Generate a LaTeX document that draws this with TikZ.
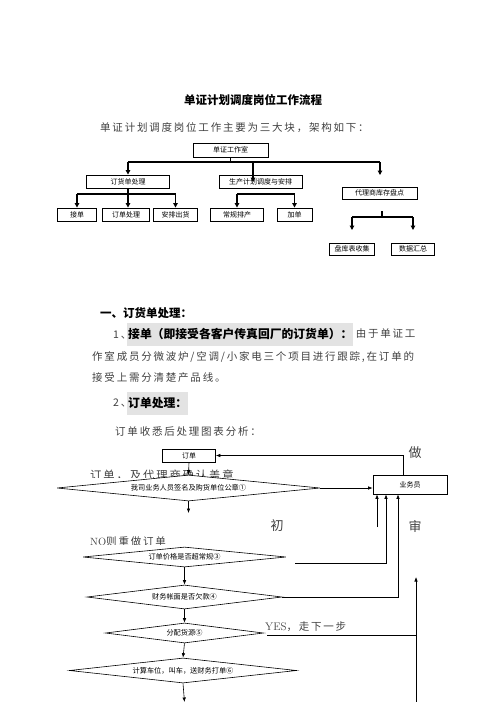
\documentclass[tikz,border=0pt]{standalone}
\usepackage{fontspec}
\newfontfamily\cjk{Noto Sans CJK SC}
\newfontfamily\cjksp[LetterSpace=17]{Noto Sans CJK SC}
\usetikzlibrary{arrows.meta,shapes.geometric}

\begin{document}
\begin{tikzpicture}[x=1pt,y=-1pt,>={Triangle[length=4.5pt,width=4.5pt]}]

% ---------- styles ----------
\tikzset{
  box/.style={draw, line width=0.9pt, inner sep=0pt, font=\cjk\fontsize{7}{8}\selectfont},
  tree/.style={line width=1.1pt},
  treearr/.style={->, line width=1.1pt},
  fbox/.style={draw, line width=0.6pt, inner sep=0pt, font=\cjk\fontsize{7}{8}\selectfont},
  dia/.style={diamond, draw, fill=white, line width=0.6pt, inner sep=0pt, font=\cjk\fontsize{7.2}{8}\selectfont},
  flow/.style={-{Latex[length=4.5pt,width=3.5pt]}, line width=0.6pt},
  body/.style={anchor=west, inner sep=0pt, text=black!75, font=\cjksp\fontsize{10.5}{12}\selectfont},
  bodyb/.style={body, text=black, font=\cjk\bfseries\fontsize{11.8}{13}\selectfont},
  big/.style={inner sep=0pt, text=black!75, font=\cjk\fontsize{13}{14}\selectfont}
}

\useasboundingbox (0,0) rectangle (496,702);

% ---------- heading ----------
\node[inner sep=0pt, font=\cjk\bfseries\fontsize{11.5}{13}\selectfont] (title) at (253,100) {单证计划调度岗位工作流程};
\node[body] (intro) at (100,128) {单证计划调度岗位工作主要为三大块，架构如下：};

% ---------- organisation tree ----------
\node[box, minimum width=75pt, minimum height=14pt] (room) at (230.5,150) {单证工作室};
\node[box, minimum width=83pt, minimum height=13pt] (ord) at (128,181.5) {订货单处理};
\node[box, minimum width=83pt, minimum height=13pt] (plan) at (260.5,181.5) {生产计划调度与安排};
\node[box, minimum width=75pt, minimum height=12pt] (agent) at (379.5,193) {代理商库存盘点};

\node[box, minimum width=39pt, minimum height=13pt] (jiedan) at (77,214.5) {接单};
\node[box, minimum width=47pt, minimum height=13pt] (dingdan) at (126,214.5) {订单处理};
\node[box, minimum width=44pt, minimum height=13pt] (chuhuo) at (175.5,214.5) {安排出货};
\node[box, minimum width=53pt, minimum height=13pt] (paichan) at (237,214.5) {常规排产};
\node[box, minimum width=35pt, minimum height=13pt] (jiadan) at (294.5,214.5) {加单};
\node[box, minimum width=45pt, minimum height=12pt] (panku) at (352,249) {盘库表收集};
\node[box, minimum width=43pt, minimum height=12pt] (huizong) at (413,249) {数据汇总};

\coordinate (busL) at (128,162);
\coordinate (busR) at (380,162);
\coordinate (planin) at (253,182);
\coordinate (agenttip) at (380,175);
\coordinate (ordbus) at (128,194);
\coordinate (planbus) at (237,194);
\coordinate (agentstub) at (382,211);
\coordinate (agentbus) at (382,217);
\coordinate (pankutip) at (352,230);
\coordinate (huizongtip) at (413,230);

\draw[tree] (room.south) -- (room.south |- busL);
\draw[tree] (busL) -- (busR);
\draw[treearr] (busL) -- (ord.north);
\draw[treearr] (busL -| planin) -- (planin);
\draw[treearr] (busR) -- (agenttip);

\draw[tree] (ord.south) -- (ordbus);
\draw[tree] (jiedan.north |- ordbus) -- (chuhuo.north |- ordbus);
\draw[treearr] (jiedan.north |- ordbus) -- (jiedan.north);
\draw[treearr] (ordbus) -- (dingdan.north -| ordbus);
\draw[treearr] (chuhuo.north |- ordbus) -- (chuhuo.north);

\draw[tree] (planbus) -- (jiadan.north |- planbus);
\draw[treearr] (planbus) -- (paichan.north);
\draw[treearr] (jiadan.north |- planbus) -- (jiadan.north);

\draw[tree] (agentstub) -- (agentbus);
\draw[tree] (pankutip |- agentbus) -- (huizongtip |- agentbus);
\draw[treearr] (pankutip |- agentbus) -- (pankutip);
\draw[treearr] (huizongtip |- agentbus) -- (huizongtip);

% ---------- text ----------
\node[anchor=west, inner sep=0pt, font=\cjk\bfseries\fontsize{11.5}{13}\selectfont] (sec1) at (100,313) {一、订货单处理：};
\node[body] (num1) at (113,335) {1、};
\node[bodyb, fill=gray!22, minimum height=23pt, inner xsep=1pt] (recv) at (127,334) {接单（即接受各客户传真回厂的订货单）：};
\node[body] (recvtxt) at ([xshift=2pt]recv.east) {由于单证工};
\node[body] (line2) at (92,357) {作室成员分微波炉/空调/小家电三个项目进行跟踪,在订单的};
\node[body] (line3) at (92,378) {接受上需分清楚产品线。};
\node[body] (num2) at (113,403) {2、};
\node[bodyb, fill=gray!22, minimum height=23pt, inner xsep=1pt] (proc) at (127,403.5) {订单处理：};
\node[body] (line4) at (115,432) {订单收悉后处理图表分析：};

% ---------- order flow ----------
\begin{scope}
  \clip (0,0) rectangle (496,477.5);
  \node[body, font=\cjksp\fontsize{11.3}{13}\selectfont] (confirm) at (90,475) {订单，及代理商确认盖章};
\end{scope}
\begin{scope}
  \clip (0,0) rectangle (496,544);
  \node[body, font=\cjksp\fontsize{10.5}{12}\selectfont] (redo) at (90,542) {{\rmfamily NO}则重做订单};
\end{scope}

\node[fbox, minimum width=53pt, minimum height=13pt] (order) at (189,455.5) {订单};
\node[fbox, minimum width=74pt, minimum height=19pt] (staff) at (410,484.5) {业务员};

\node[dia, minimum width=263pt, minimum height=26pt, aspect=10] (d1) at (188.5,488) {我司业务人员签名及购货单位公章①};
\node[dia, minimum width=203pt, minimum height=20pt, aspect=10] (d2) at (184.5,557) {订单价格是否超常规③};
\node[dia, minimum width=195pt, minimum height=24pt, aspect=8] (d3) at (184.5,597) {财务帐面是否欠款④};
\node[dia, minimum width=158pt, minimum height=20pt, aspect=8] (d4) at (184.5,633) {分配货源⑤};
\node[dia, minimum width=227pt, minimum height=25pt, aspect=9] (d5) at (183,670.5) {计算车位，叫车，送财务打单⑥};

\node[big] (zuo) at (415,453) {做};
\node[big] (chu) at (277,526) {初};
\node[big] (shen) at (415,526) {审};
\node[body, font=\cjksp\fontsize{10.5}{12}\selectfont] (yes) at (265,627) {{\rmfamily\fontsize{11}{12}\selectfont YES}，走下一步};

\coordinate (d1tip) at (188.5,513);
\coordinate (up1) at (377,527);
\coordinate (d2out) at (295,563);
\coordinate (yesL) at (267,635);
\coordinate (shenB) at (416,702);
\coordinate (shentip) at (416,577);
\coordinate (flowend) at (184.5,702);

\draw[flow] (order.south) -- (d1.north);
\draw[flow] (d1.east) -- (d1.east -| staff.west);
\draw[flow] ([xshift=-7pt]staff.north) |- (order.east);
\draw[flow] (d1.south) -- (d1tip);

\draw[flow] (up1) -- (up1 |- staff.south);
\draw[flow] (d2out) -| ([xshift=-24pt]staff.south);
\draw[flow] (d3.east) -| ([xshift=-12pt]staff.south);

\draw[line width=0.6pt] (yesL) -- (yesL -| shentip);
\draw[flow] (shenB) -- (shentip);

\draw[flow] (d2.south) -- (d3.north);
\draw[flow] (d3.south) -- (d4.north);
\draw[flow] (d4.south) -- (d5.north);
\draw[flow] (d5.south) -- (flowend);

\end{tikzpicture}
\end{document}
